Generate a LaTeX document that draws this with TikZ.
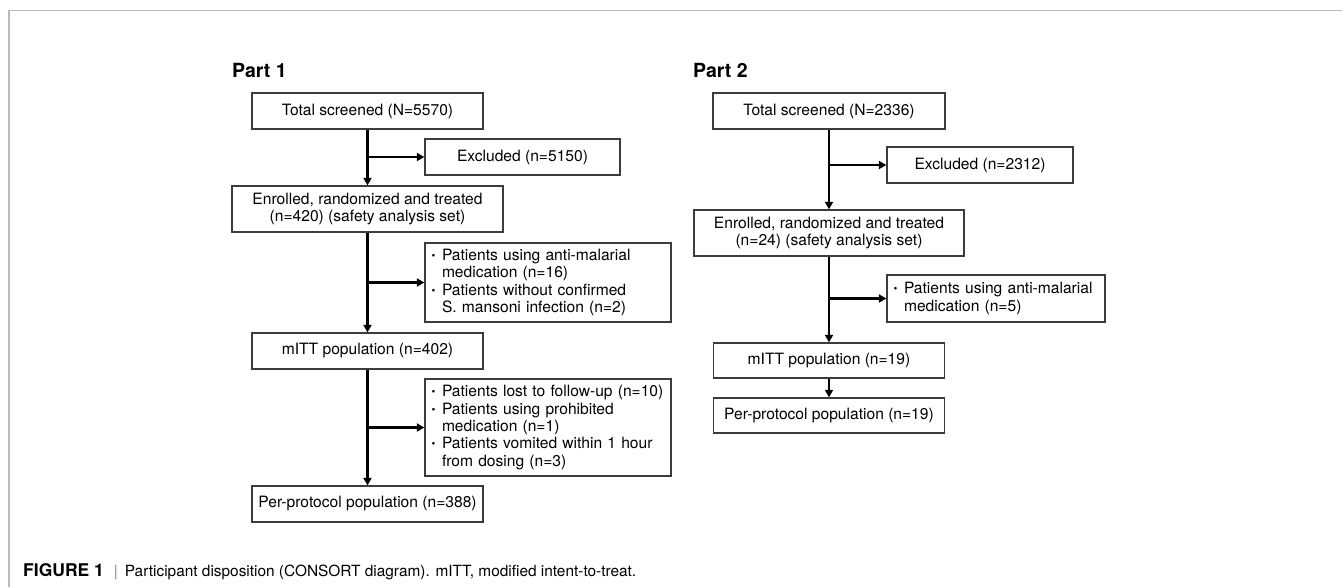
\documentclass[tikz,border=0pt]{standalone}
\usepackage{fontspec}
\setmainfont{TeX Gyre Heros}
\usetikzlibrary{arrows.meta}
\definecolor{boxline}{HTML}{3C3C3C}
\definecolor{frameline}{HTML}{BBBBBB}
\tikzset{
  box/.style={draw=boxline, line width=1.3pt, inner sep=0pt, align=center,
    font=\fontsize{15.6}{17.5}\selectfont},
  bbox/.style={draw=boxline, line width=1.3pt, inner xsep=5pt, inner ysep=0pt, align=left,
    font=\fontsize{15.6}{17.3}\selectfont},
  flow/.style={line width=2.3pt, -{Triangle[width=8pt,length=7.5pt]}},
  partlabel/.style={font=\fontsize{19.5}{22}\selectfont\bfseries, anchor=west, inner sep=0pt},
}
\newcommand{\bl}{\makebox[12pt][l]{\hspace{1.5pt}\raisebox{1pt}{\scalebox{0.7}{\textbullet}}}}
\newcommand{\ind}{\hspace*{12pt}}
\begin{document}
\begin{tikzpicture}[x=1pt,y=-1pt]
\useasboundingbox (0,0) rectangle (1342,587);
\draw[frameline, line width=1.2pt] (9,587) coordinate (fa) -- (9,10.5) coordinate (fb) -- (1342,10.5) coordinate (fc);

% Part 1
\node[partlabel] (p1lab) at (232,70) {Part 1};
\node[box, minimum width=231pt, minimum height=36pt] (t1) at (367.5,111) {Total screened (N=5570)};
\node[box, minimum width=195pt, minimum height=36pt] (ex1) at (522.5,157) {Excluded (n=5150)};
\node[box, minimum width=271pt, minimum height=46pt] (en1) at (367.5,209) {Enrolled, randomized and treated\\(n=420) (safety analysis set)};
\node[bbox, minimum width=246pt, minimum height=79pt, text width=236pt] (b1) at (548,282.5)
  {\bl Patients using anti-malarial\\\ind medication (n=16)\\\bl Patients without confirmed\\\ind S. mansoni infection (n=2)};
\node[box, minimum width=231pt, minimum height=36pt] (m1) at (367.5,351) {mITT population (n=402)};
\node[bbox, minimum width=246pt, minimum height=97pt, text width=236pt] (b2) at (548,427.5)
  {\mbox{\bl Patients lost to follow-up (n=10)}\\\bl Patients using prohibited\\\ind medication (n=1)\\\bl Patients vomited within 1 hour\\\ind from dosing (n=3)};
\node[box, minimum width=231pt, minimum height=36pt] (pp1) at (367.5,504) {Per-protocol population (n=388)};

\draw[flow] (t1.south) -- (en1.north);
\draw[flow] (t1.south |- ex1.west) -- (ex1.west);
\draw[flow] (en1.south) -- (m1.north);
\draw[flow] (en1.south |- b1.west) -- (b1.west);
\draw[flow] (m1.south) -- (pp1.north);
\draw[flow] (m1.south |- b2.west) -- (b2.west);

% Part 2
\node[partlabel] (p2lab) at (693,70) {Part 2};
\node[box, minimum width=232pt, minimum height=36pt] (t2) at (829,111) {Total screened (N=2336)};
\node[box, minimum width=186pt, minimum height=36pt] (ex2) at (980,165) {Excluded (n=2312)};
\node[box, minimum width=270pt, minimum height=46pt] (en2) at (829,233) {Enrolled, randomized and treated\\(n=24) (safety analysis set)};
\node[bbox, minimum width=218pt, minimum height=47pt, text width=208pt] (b3) at (996,298.5)
  {\bl Patients using anti-malarial\\\ind medication (n=5)};
\node[box, minimum width=231pt, minimum height=35pt] (m2) at (829,360.5) {mITT population (n=19)};
\node[box, minimum width=231pt, minimum height=35pt] (pp2) at (829,415.5) {Per-protocol population (n=19)};

\draw[flow] (t2.south) -- (en2.north);
\draw[flow] (t2.south |- ex2.west) -- (ex2.west);
\draw[flow] (en2.south) -- (m2.north);
\draw[flow] (en2.south |- b3.west) -- (b3.west);
\draw[flow] (m2.south) -- (pp2.north);

% Caption
\node[anchor=west, inner sep=0pt, font=\fontsize{15.4}{18}\selectfont] (cap) at (23,572)
  {{\fontsize{17.5}{18}\selectfont\bfseries FIGURE 1}\hspace{10pt}{\color{gray}|}\hspace{7pt}Participant disposition (CONSORT diagram). mITT, modified intent-to-treat.};
\end{tikzpicture}
\end{document}
